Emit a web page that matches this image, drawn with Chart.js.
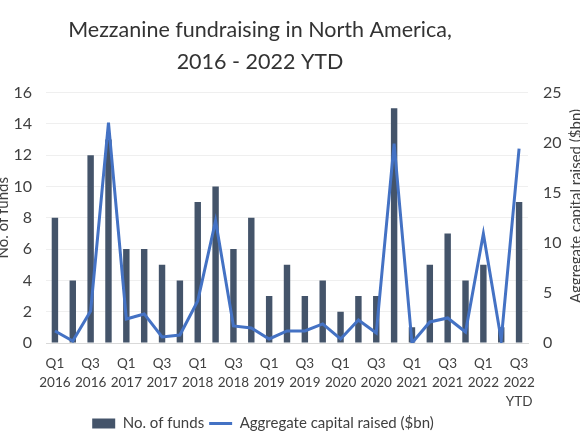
<!DOCTYPE html>
<html>
<head>
<meta charset="utf-8">
<script src="https://cdn.jsdelivr.net/npm/chart.js@4"></script>
<style>
  body { margin: 0; background: #fff; }
  #wrap { width: 580px; height: 435px; }
</style>
</head>
<body>
<div id="wrap"><canvas id="myChart"></canvas></div>
<script>
// Quarter labels (multi-line, every other one shown on the axis)
var quarters = [
    ["Q1", "2016"], ["Q2", "2016"], ["Q3", "2016"], ["Q4", "2016"],
    ["Q1", "2017"], ["Q2", "2017"], ["Q3", "2017"], ["Q4", "2017"],
    ["Q1", "2018"], ["Q2", "2018"], ["Q3", "2018"], ["Q4", "2018"],
    ["Q1", "2019"], ["Q2", "2019"], ["Q3", "2019"], ["Q4", "2019"],
    ["Q1", "2020"], ["Q2", "2020"], ["Q3", "2020"], ["Q4", "2020"],
    ["Q1", "2021"], ["Q2", "2021"], ["Q3", "2021"], ["Q4", "2021"],
    ["Q1", "2022"], ["Q2", "2022"], ["Q3", "2022", "YTD"]
];

// No. of funds (left axis)
var numFunds = [8, 4, 12, 13, 6, 6, 5, 4, 9, 10, 6, 8, 3, 5, 3, 4, 2, 3, 3, 15, 1, 5, 7, 4, 5, 1, 9];

// Aggregate capital raised, $bn (right axis)
var capitalRaised = [1.2, 0.2, 3.2, 22.0, 2.4, 2.9, 0.6, 0.8, 4.2, 12.2, 1.7, 1.5, 0.4, 1.2,
    1.2, 1.9, 0.4, 2.3, 1.0, 19.9, 0.0, 2.1, 2.5, 1.1, 10.9, 0.3, 19.4];

var rightTitle = "Aggregate capital raised ($bn)";

var fontFamily = "Lato, 'Open Sans', sans-serif";
var textColor = "#404040";

// Title and legend sit a little left of centre in the original, and the
// right axis title reads bottom-to-top, so handle those here
var tweaks = {
    id: "tweaks",
    afterLayout: function(chart) {
        if (chart.titleBlock) {
            chart.titleBlock.left -= 27;
            chart.titleBlock.right -= 27;
        }
        if (chart.legend) {
            chart.legend.left -= 24;
            chart.legend.right -= 24;
        }
    },
    afterDraw: function(chart) {
        var c = chart.ctx;
        c.save();
        c.translate(581, 206);
        c.rotate(-Math.PI / 2);
        c.fillStyle = textColor;
        c.font = "15px " + fontFamily;
        c.textAlign = "center";
        c.textBaseline = "alphabetic";
        c.fillText(rightTitle, 0, 0);
        c.restore();
    }
};

var ctx = document.getElementById("myChart").getContext("2d");
var config = {
    type: "bar",
    data: {
        labels: quarters,
        datasets: [{
            type: "line",
            label: "Aggregate capital raised ($bn)",
            data: capitalRaised,
            yAxisID: "y1",
            borderColor: "#4472C4",
            backgroundColor: "#4472C4",
            borderWidth: 3,
            pointRadius: 0,
            tension: 0,
            order: 0
        }, {
            label: "No. of funds",
            data: numFunds,
            yAxisID: "y",
            backgroundColor: "#44546A",
            barPercentage: 0.4,
            categoryPercentage: 0.9,
            order: 1
        }]
    },
    options: {
        responsive: true,
        maintainAspectRatio: false,
        animation: false,
        layout: { padding: { left: -6, right: 0, top: 0, bottom: -6 } },
        plugins: {
            title: {
                display: true,
                text: ["Mezzanine fundraising in North America,", "2016 - 2022 YTD"],
                color: "#333333",
                font: { family: fontFamily, size: 21.5, weight: "normal", lineHeight: 1.5 },
                padding: { top: 14, bottom: 14 }
            },
            legend: {
                position: "bottom",
                reverse: true,
                labels: {
                    color: textColor,
                    font: { family: fontFamily, size: 15 },
                    usePointStyle: true,
                    pointStyleWidth: 23,
                    boxHeight: 10,
                    padding: 5,
                    generateLabels: function(chart) {
                        var items = Chart.defaults.plugins.legend.labels.generateLabels(chart);
                        items.forEach(function(it) {
                            it.pointStyle = (it.datasetIndex === 0) ? "line" : "rect";
                            it.lineWidth = (it.datasetIndex === 0) ? 3 : 0;
                        });
                        return items;
                    }
                }
            },
            tooltip: { enabled: false }
        },
        scales: {
            x: {
                grid: { display: false, drawTicks: false },
                border: { color: "#d9d9d9" },
                afterFit: function(scale) { scale.height = 68; },
                ticks: {
                    autoSkip: false,
                    maxRotation: 0,
                    padding: 11,
                    color: textColor,
                    font: { family: fontFamily, size: 13.5, lineHeight: 1.4 },
                    callback: function(value, index) {
                        return index % 2 === 0 ? this.getLabelForValue(value) : "";
                    }
                }
            },
            y: {
                position: "left",
                min: 0,
                max: 16,
                afterFit: function(scale) { scale.width = 52; },
                ticks: { stepSize: 2, color: textColor, font: { family: fontFamily, size: 16 }, padding: 14 },
                grid: { color: "#efefef", drawTicks: false },
                border: { display: false },
                title: {
                    display: true,
                    text: "No. of funds",
                    color: textColor,
                    font: { family: fontFamily, size: 15 },
                    padding: { top: 0, bottom: 0 }
                }
            },
            y1: {
                position: "right",
                min: 0,
                max: 25,
                afterFit: function(scale) { scale.width = 52; },
                ticks: { stepSize: 5, color: textColor, font: { family: fontFamily, size: 16 }, padding: 15 },
                grid: { display: false, drawTicks: false },
                border: { display: false }
            }
        }
    },
    plugins: [tweaks]
};
var chart = new Chart(ctx, config);
</script>
</body>
</html>
